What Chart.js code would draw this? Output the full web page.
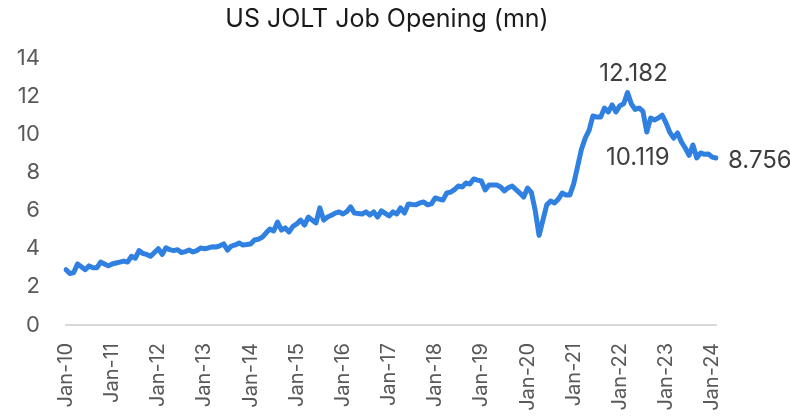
<!DOCTYPE html>
<html>
<head>
<meta charset="utf-8">
<script src="https://cdn.jsdelivr.net/npm/chart.js@4"></script>
<style>
  html, body { margin: 0; padding: 0; background: #fff; }
  #wrap { width: 790px; height: 416px; }
</style>
</head>
<body>
<div id="wrap"><canvas id="myChart" width="790" height="416"></canvas></div>
<script>
'use strict';

// job openings, millions, monthly from Jan-10 to Feb-24
let y2010 = [2.9, 2.7, 2.75, 3.2, 3.05, 2.9, 3.1, 3.0, 3.0, 3.3, 3.2, 3.1];
let y2011 = [3.2, 3.25, 3.3, 3.35, 3.3, 3.6, 3.5, 3.9, 3.75, 3.7, 3.6, 3.8];
let y2012 = [4.0, 3.7, 4.05, 3.95, 3.9, 3.95, 3.8, 3.85, 3.93, 3.83, 3.9, 4.04];
let y2013 = [4.0, 4.04, 4.1, 4.09, 4.15, 4.25, 3.93, 4.14, 4.2, 4.3, 4.2, 4.22];
let y2014 = [4.25, 4.46, 4.5, 4.6, 4.82, 5.03, 4.93, 5.4, 4.98, 5.09, 4.88, 5.17];
let y2015 = [5.3, 5.5, 5.24, 5.66, 5.5, 5.35, 6.14, 5.5, 5.66, 5.75, 5.87, 5.93];
let y2016 = [5.82, 5.95, 6.19, 5.87, 5.85, 5.82, 5.93, 5.77, 5.93, 5.66, 5.98, 5.85];
let y2017 = [5.72, 5.93, 5.82, 6.14, 5.87, 6.35, 6.32, 6.3, 6.4, 6.45, 6.3, 6.35];
let y2018 = [6.66, 6.6, 6.55, 6.92, 6.97, 7.1, 7.29, 7.24, 7.45, 7.39, 7.66, 7.6];
let y2019 = [7.55, 7.08, 7.34, 7.34, 7.34, 7.24, 7.03, 7.2, 7.29, 7.1, 6.92, 6.71];
let y2020 = [7.18, 6.95, 6.0, 4.7, 5.5, 6.3, 6.5, 6.4, 6.6, 6.92, 6.82, 6.82];
let y2021 = [7.4, 8.3, 9.2, 9.8, 10.2, 10.96, 10.9, 10.9, 11.38, 11.17, 11.54, 11.17];
let y2022 = [11.5, 11.6, 12.182, 11.59, 11.3, 11.38, 11.2, 10.119, 10.85, 10.75, 10.85, 11.0];
let y2023 = [10.6, 10.1, 9.8, 10.07, 9.6, 9.28, 8.9, 9.44, 8.76, 9.02, 8.95, 8.97];
let y2024 = [8.8, 8.756];

let monthNames = ['Jan', 'Feb', 'Mar', 'Apr', 'May', 'Jun', 'Jul', 'Aug', 'Sep', 'Oct', 'Nov', 'Dec'];
let years = ['10', '11', '12', '13', '14', '15', '16', '17', '18', '19', '20', '21', '22', '23', '24'];
let yTicks = [0, 2, 4, 6, 8, 10, 12, 14];

// points that carry a value label
let calloutIndex = [146, 151, 169];
let calloutText = ['12.182', '10.119', '8.756'];

let openings = [].concat(y2010, y2011, y2012, y2013, y2014, y2015, y2016, y2017,
    y2018, y2019, y2020, y2021, y2022, y2023, y2024);

let labels = [];
for (let i = 0; i < openings.length; i++) {
    let m = i % 12;
    let yr = years[Math.floor(i / 12)];
    labels.push(monthNames[m] + '-' + yr);
}

let fontFamily = "Inter, 'Open Sans', sans-serif";

let calloutPlugin = {
    id: 'callouts',
    afterDatasetsDraw(chart) {
        let meta = chart.getDatasetMeta(0);
        let ctx = chart.ctx;
        ctx.save();
        ctx.fillStyle = '#3f3f3f';
        ctx.font = '24px ' + fontFamily;
        ctx.textBaseline = 'middle';
        for (let i = 0; i < calloutIndex.length; i++) {
            let pt = meta.data[calloutIndex[i]];
            if (i === 0) {
                ctx.textAlign = 'center';
                ctx.fillText(calloutText[i], pt.x + 6, pt.y - 19);
            } else if (i === 1) {
                ctx.textAlign = 'center';
                ctx.fillText(calloutText[i], pt.x - 9, pt.y + 26);
            } else {
                ctx.textAlign = 'left';
                ctx.fillText(calloutText[i], pt.x + 12, pt.y + 3);
            }
        }
        ctx.restore();
    }
};

let ctx = document.getElementById('myChart').getContext('2d');
let myChart = new Chart(ctx, {
    type: 'line',
    data: {
        labels: labels,
        datasets: [{
            label: 'Job Openings',
            data: openings,
            borderColor: '#2f80e0',
            borderWidth: 5,
            pointRadius: 0,
            tension: 0,
            borderCapStyle: 'round',
            borderJoinStyle: 'round',
            fill: false
        }]
    },
    options: {
        responsive: false,
        animation: false,
        layout: {
            padding: { left: 0, right: 16, top: 0, bottom: 0 }
        },
        plugins: {
            legend: { display: false },
            tooltip: { enabled: false },
            title: {
                display: true,
                text: 'US JOLT Job Opening (mn)',
                color: '#1a1a1a',
                font: { family: fontFamily, size: 25, weight: 'normal' },
                padding: { top: 4, bottom: 24 }
            }
        },
        scales: {
            x: {
                grid: { display: false, drawTicks: false },
                border: { display: true, color: '#d9d9d9', width: 2 },
                ticks: {
                    autoSkip: false,
                    minRotation: 90,
                    maxRotation: 90,
                    padding: 18,
                    color: '#595959',
                    font: { family: fontFamily, size: 20 },
                    callback: function (val, i) {
                        let lab = labels[i];
                        return lab.startsWith('Jan') ? lab : '';
                    }
                },
                afterFit: function (scale) { scale.height = 91; }
            },
            y: {
                min: yTicks[0],
                max: yTicks[yTicks.length - 1],
                grid: { display: false, drawTicks: false },
                border: { display: false },
                afterBuildTicks: function (scale) {
                    scale.ticks = yTicks.map(v => ({ value: v }));
                },
                ticks: {
                    padding: 26,
                    color: '#595959',
                    font: { family: fontFamily, size: 22 }
                },
                afterFit: function (scale) { scale.width = 66; }
            },
            // empty right-hand axis that only reserves room for the end label
            yRight: {
                position: 'right',
                display: true,
                min: yTicks[0],
                max: yTicks[yTicks.length - 1],
                grid: { display: false, drawTicks: false },
                border: { display: false },
                ticks: { display: false },
                afterFit: function (scale) { scale.width = 58; }
            }
        }
    },
    plugins: [calloutPlugin]
});
</script>
</body>
</html>
